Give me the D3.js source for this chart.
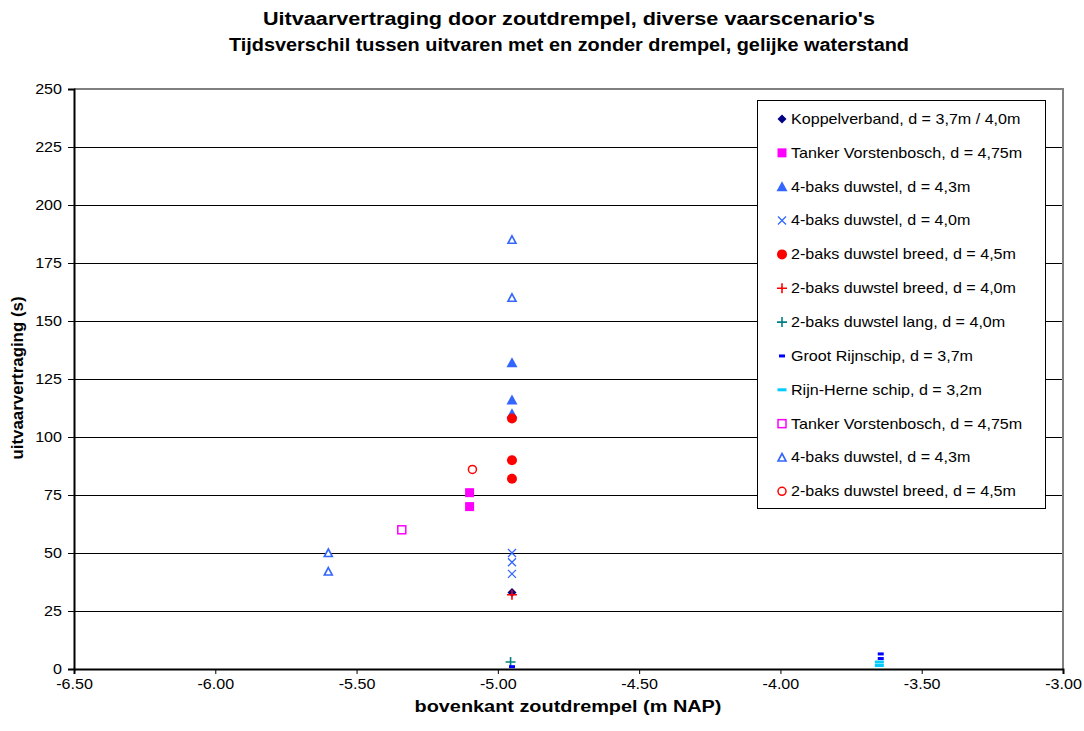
<!DOCTYPE html>
<html>
<head>
<meta charset="utf-8">
<script src="https://cdn.jsdelivr.net/npm/d3@7"></script>
<style>
  html, body { margin: 0; padding: 0; background: #fff; }
  svg { display: block; font-family: "Liberation Sans", Arial, sans-serif; }
</style>
</head>
<body>
<svg id="chart" width="1084" height="731"></svg>
<script>
// Chart titles and axis settings
const titleLines = [
  "Uitvaarvertraging door zoutdrempel, diverse vaarscenario's",
  "Tijdsverschil tussen uitvaren met en zonder drempel, gelijke waterstand"
];
const xTitle = "bovenkant zoutdrempel (m NAP)";
const yTitle = "uitvaarvertraging (s)";
const xTicks = [-6.5, -6.0, -5.5, -5.0, -4.5, -4.0, -3.5, -3.0];
const yTicks = [0, 25, 50, 75, 100, 125, 150, 175, 200, 225, 250];

// Series: threshold top (m NAP) and delay (s)
const koppelX = [-4.95];               const koppelY = [33];
const tankerX = [-5.10, -5.10];        const tankerY = [76, 70];
const duw43X = [-4.95, -4.95, -4.95];  const duw43Y = [132, 116, 110];
const duw40X = [-4.95, -4.95, -4.95];  const duw40Y = [50, 46, 41];
const breed45X = [-4.95, -4.95, -4.95]; const breed45Y = [108, 90, 82];
const breed40X = [-4.95];              const breed40Y = [32];
const lang40X = [-4.955];              const lang40Y = [3];
const grootX = [-4.95, -3.645, -3.645]; const grootY = [1, 6.5, 4.5];
const herneX = [-3.65, -3.65];         const herneY = [1.5, 3];
const tankerOpenX = [-5.34];           const tankerOpenY = [60];
const duw43OpenX = [-4.95, -4.95, -5.60, -5.60]; const duw43OpenY = [185, 160, 50, 42];
const breed45OpenX = [-5.09];          const breed45OpenY = [86];

const seriesNames = [
  "Koppelverband, d = 3,7m / 4,0m",
  "Tanker Vorstenbosch, d = 4,75m",
  "4-baks duwstel, d = 4,3m",
  "4-baks duwstel, d = 4,0m",
  "2-baks duwstel breed, d = 4,5m",
  "2-baks duwstel breed, d = 4,0m",
  "2-baks duwstel lang, d = 4,0m",
  "Groot Rijnschip, d = 3,7m",
  "Rijn-Herne schip, d = 3,2m",
  "Tanker Vorstenbosch, d = 4,75m",
  "4-baks duwstel, d = 4,3m",
  "2-baks duwstel breed, d = 4,5m"
];

const series = [
  { xs: koppelX, ys: koppelY, shape: "diamond", color: "#000080", fill: true },
  { xs: tankerX, ys: tankerY, shape: "square", color: "#FF00FF", fill: true },
  { xs: duw43X, ys: duw43Y, shape: "triangle", color: "#3366FF", fill: true },
  { xs: duw40X, ys: duw40Y, shape: "cross", color: "#3366FF", fill: false },
  { xs: breed45X, ys: breed45Y, shape: "circle", color: "#FF0000", fill: true },
  { xs: breed40X, ys: breed40Y, shape: "plus", color: "#FF0000", fill: false },
  { xs: lang40X, ys: lang40Y, shape: "plus", color: "#008080", fill: false },
  { xs: grootX, ys: grootY, shape: "dash", color: "#0000FF", fill: true },
  { xs: herneX, ys: herneY, shape: "longdash", color: "#00CCFF", fill: true },
  { xs: tankerOpenX, ys: tankerOpenY, shape: "square", color: "#FF00FF", fill: false },
  { xs: duw43OpenX, ys: duw43OpenY, shape: "triangle", color: "#3366FF", fill: false },
  { xs: breed45OpenX, ys: breed45OpenY, shape: "circle", color: "#FF0000", fill: false }
].map((s, i) => ({ ...s, name: seriesNames[i] }));

const STRETCH = 1.15;   // horizontal widening of the regular text
const svg = d3.select("#chart");
const plot = { left: 74, right: 1063, top: 89, bottom: 669 };

const x = d3.scaleLinear().domain([-6.5, -3.0]).range([plot.left, plot.right]);
const y = d3.scaleLinear().domain([0, 250]).range([plot.bottom, plot.top]);

// Titles
const titleWidths = [612, 680];
svg.append("g").selectAll("text").data(titleLines).join("text")
  .attr("x", 569).attr("y", (d, i) => 25 + i * 26)
  .attr("text-anchor", "middle")
  .attr("font-size", 17.5).attr("font-weight", "bold")
  .attr("textLength", (d, i) => titleWidths[i]).attr("lengthAdjust", "spacingAndGlyphs")
  .text(d => d);

// Horizontal gridlines
svg.append("g").selectAll("line").data(yTicks.filter(t => t > 0 && t < 250)).join("line")
  .attr("x1", plot.left).attr("x2", plot.right)
  .attr("y1", d => y(d)).attr("y2", d => y(d))
  .attr("stroke", "#000").attr("stroke-width", 1).attr("shape-rendering", "crispEdges");

// Plot area border (top / right)
svg.append("path")
  .attr("d", `M${plot.left},${plot.top}H${plot.right}V${plot.bottom}`)
  .attr("fill", "none").attr("stroke", "#808080").attr("stroke-width", 2)
  .attr("shape-rendering", "crispEdges");

// Axes (plain hyphen for negative numbers)
const fmt2 = d => d3.format(".2f")(d).replace("\u2212", "-");
const xAxis = d3.axisBottom(x).tickValues(xTicks).tickFormat(fmt2).tickSizeOuter(0).tickSize(5).tickPadding(8);
const yAxis = d3.axisLeft(y).tickValues(yTicks).tickFormat(d3.format("d")).tickSizeOuter(0).tickSize(6).tickPadding(6);

const gx = svg.append("g").attr("transform", `translate(0,${plot.bottom})`).call(xAxis);
const gy = svg.append("g").attr("transform", `translate(${plot.left},0)`).call(yAxis);
[gx, gy].forEach(g => {
  g.select(".domain").attr("stroke", "#000").attr("stroke-width", 2);
  g.selectAll(".tick line").attr("stroke", "#000");
  g.selectAll(".tick text").attr("font-size", 14).attr("fill", "#000")
    .attr("font-family", "'Liberation Sans', Arial, sans-serif")
    .attr("transform", `scale(${STRETCH},1)`);
});
gx.selectAll(".tick text").attr("y", 10).attr("dy", "0.71em");
gy.selectAll(".tick text").attr("x", -12 / STRETCH).attr("dy", "0.35em");

// Axis titles
svg.append("text").attr("x", 568).attr("y", 712).attr("text-anchor", "middle")
  .attr("font-size", 16).attr("font-weight", "bold")
  .attr("textLength", 307).attr("lengthAdjust", "spacingAndGlyphs").text(xTitle);
svg.append("text").attr("transform", `translate(23,${(plot.top + plot.bottom) / 2 - 1}) rotate(-90)`)
  .attr("text-anchor", "middle").attr("font-size", 16).attr("font-weight", "bold")
  .attr("textLength", 163).attr("lengthAdjust", "spacingAndGlyphs").text(yTitle);

// Marker drawing
function marker(sel, s) {
  const fill = s.fill ? s.color : "#fff";
  const stroke = s.color;
  switch (s.shape) {
    case "diamond":
      sel.append("path").attr("d", "M0,-4.5L4.5,0L0,4.5L-4.5,0Z").attr("fill", fill);
      break;
    case "square":
      if (s.fill) sel.append("rect").attr("x", -4.5).attr("y", -4.5).attr("width", 9).attr("height", 9).attr("fill", fill);
      else sel.append("rect").attr("x", -4).attr("y", -4).attr("width", 8).attr("height", 8)
        .attr("fill", "#fff").attr("stroke", stroke).attr("stroke-width", 1.5);
      break;
    case "triangle":
      if (s.fill) sel.append("path").attr("d", "M0,-5.5L5.5,4.5L-5.5,4.5Z").attr("fill", fill);
      else sel.append("path").attr("d", "M0,-4L4,3.5L-4,3.5Z").attr("fill", "#fff")
        .attr("stroke", stroke).attr("stroke-width", 1.6);
      break;
    case "circle":
      if (s.fill) sel.append("circle").attr("r", 5).attr("fill", fill);
      else sel.append("circle").attr("r", 4).attr("fill", "#fff").attr("stroke", stroke).attr("stroke-width", 1.5);
      break;
    case "cross":
      sel.append("path").attr("d", "M-4,-4L4,4M-4,4L4,-4").attr("stroke", stroke).attr("stroke-width", 1.3).attr("fill", "none");
      break;
    case "plus":
      sel.append("path").attr("d", "M-5,0H5M0,-5V5").attr("stroke", stroke).attr("stroke-width", 1.6).attr("fill", "none");
      break;
    case "dash":
      sel.append("rect").attr("x", -3).attr("y", -1.5).attr("width", 6).attr("height", 3).attr("fill", fill);
      break;
    case "longdash":
      sel.append("rect").attr("x", -4.5).attr("y", -1.5).attr("width", 9).attr("height", 3).attr("fill", fill);
      break;
  }
}

// Data points
const pts = svg.append("g");
series.forEach(s => {
  s.xs.forEach((xv, i) => {
    const g = pts.append("g").attr("transform", `translate(${x(xv)},${y(s.ys[i])})`);
    marker(g, s);
  });
});

// Legend
const lg = svg.append("g");
lg.append("rect").attr("x", 757.5).attr("y", 100.5).attr("width", 288).attr("height", 408)
  .attr("fill", "#fff").attr("stroke", "#000").attr("stroke-width", 1);
series.forEach((s, i) => {
  const cy = 119 + i * 33.85;
  const g = lg.append("g").attr("transform", `translate(782,${cy})`);
  marker(g, s);
  lg.append("g").attr("transform", `translate(791,${cy}) scale(${STRETCH},1)`)
    .append("text").attr("dy", "0.35em").attr("font-size", 14).text(s.name);
});
</script>
</body>
</html>
